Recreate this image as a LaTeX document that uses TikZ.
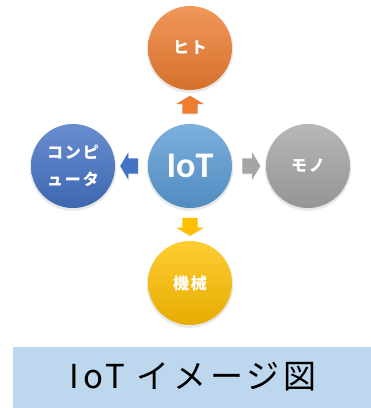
\documentclass[tikz,border=0pt]{standalone}
\usepackage{fontspec}
\newfontfamily\jpfont{Noto Sans CJK JP}
\newfontfamily\jpspaced{Noto Sans CJK JP}[LetterSpace=12]
\newfontfamily\latinfont{Carlito}
\usepackage{tikz}
\usetikzlibrary{positioning}
\usetikzlibrary{calc}
\usetikzlibrary{shadows}
\usetikzlibrary{shapes.arrows}
\definecolor{oforange}{HTML}{ED7D31}
\definecolor{ofblue}{HTML}{5B9BD5}
\definecolor{ofdarkblue}{HTML}{4472C4}
\definecolor{ofgray}{HTML}{A5A5A5}
\definecolor{ofgold}{HTML}{FFC000}
\definecolor{titlebg}{HTML}{BDD7EE}

\tikzset{
	ball/.style={circle, minimum size=84pt, inner sep=0pt, text=white,
		drop shadow={opacity=0.18, shadow xshift=0pt, shadow yshift=-1.5pt, shadow scale=1.03},
		top color=#1!80!white, bottom color=#1!90!black},
	blockarrow/.style={single arrow, fill=#1, minimum height=18pt,
		single arrow head extend=6pt, single arrow head indent=0pt, single arrow tip angle=118,
		drop shadow={opacity=0.15, shadow xshift=0pt, shadow yshift=-1pt}},
	harrow/.style={blockarrow=#1, inner xsep=0pt, inner ysep=7.5pt},
	varrow/.style={blockarrow=#1, inner xsep=7.5pt, inner ysep=0pt},
	jplabel/.style={font=\jpspaced\bfseries\fontsize{16}{27}\selectfont, align=center}
}

\begin{document}
\begin{tikzpicture}[x=1pt, y=1pt]
	\useasboundingbox (0,0) rectangle (371,408);
	% Circles %
	\node [ball=oforange, jplabel] (hito) at (190,360) {ヒト};
	\node [ball=ofblue, font=\latinfont\bfseries\fontsize{36}{40}\selectfont] (iot) at (190,242) {IoT};
	\node [ball=ofdarkblue, jplabel] (computer) at (73,242) {コンピ\\ュータ};
	\node [ball=ofgray, jplabel] (mono) at (308,242) {モノ};
	\node [ball=ofgold, jplabel] (kikai) at (190,125) {機械};
	% Arrows %
	\node [varrow=oforange, shape border rotate=90] (tohito) at ($(iot)!0.5!(hito)$) {};
	\node [harrow=ofdarkblue, shape border rotate=180] (tocomputer) at ($(iot)!0.5!(computer)$) {};
	\node [harrow=ofgray, shape border rotate=0] (tomono) at ($(iot)!0.5!(mono)$) {};
	\node [varrow=ofgold, shape border rotate=270] (tokikai) at ($(iot)!0.5!(kikai)$) {};
	% Title %
	\fill [titlebg] (13,0) rectangle (371,61);
	\node [font=\jpspaced\fontsize{33}{40}\selectfont] (title) at (193,31) {IoT イメージ図};
\end{tikzpicture}
\end{document}
